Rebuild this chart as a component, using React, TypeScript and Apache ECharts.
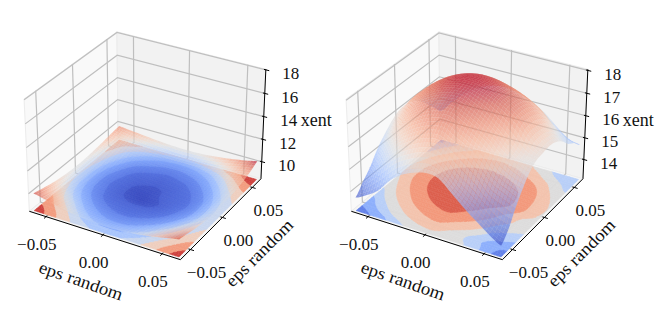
import React, { useEffect, useRef } from "react";
import * as echarts from "echarts";

const gridCoords = [-0.0625, -0.0521, -0.0417, -0.0313, -0.0208, -0.0104, 0, 0.0104, 0.0208, 0.0313, 0.0417, 0.0521, 0.0625];
const axisTicks = [-0.05, 0, 0.05];
const axisTickLabels = ["\u22120.05", "0.00", "0.05"];
const axisLabel = "eps random";
const zLabel = "xent";

const leftZTicks = [10, 12, 14, 16, 18];
const rightZTicks = [14, 15, 16, 17, 18];
const leftZLim = [8.45, 18.05];
const rightZLim = [13.1, 18.05];

const leftZ = [
  [9.98, 9.76, 9.52, 9.31, 9.16, 9.08, 9.05, 9.08, 9.16, 9.31, 9.50, 9.74, 9.95],
  [9.80, 9.58, 9.36, 9.14, 8.99, 8.91, 8.88, 8.91, 8.99, 9.14, 9.36, 9.58, 9.78],
  [9.62, 9.38, 9.16, 8.96, 8.84, 8.77, 8.75, 8.77, 8.84, 8.96, 9.16, 9.40, 9.58],
  [9.48, 9.20, 8.98, 8.82, 8.72, 8.67, 8.65, 8.67, 8.72, 8.82, 8.98, 9.22, 9.42],
  [9.38, 9.08, 8.86, 8.72, 8.64, 8.61, 8.60, 8.61, 8.64, 8.72, 8.86, 9.08, 9.30],
  [9.32, 9.02, 8.80, 8.68, 8.60, 8.55, 8.51, 8.55, 8.60, 8.67, 8.78, 9.00, 9.24],
  [9.30, 9.00, 8.78, 8.66, 8.60, 8.53, 8.53, 8.57, 8.61, 8.65, 8.76, 8.98, 9.22],
  [9.32, 9.02, 8.80, 8.68, 8.61, 8.57, 8.56, 8.58, 8.62, 8.67, 8.78, 9.00, 9.24],
  [9.38, 9.08, 8.86, 8.72, 8.64, 8.62, 8.60, 8.62, 8.65, 8.72, 8.86, 9.08, 9.30],
  [9.46, 9.18, 8.96, 8.80, 8.72, 8.68, 8.66, 8.68, 8.72, 8.82, 8.98, 9.22, 9.42],
  [9.56, 9.30, 9.08, 8.94, 8.85, 8.79, 8.77, 8.79, 8.85, 8.96, 9.16, 9.40, 9.58],
  [9.66, 9.44, 9.28, 9.14, 9.02, 8.96, 8.94, 8.96, 9.04, 9.18, 9.38, 9.62, 9.80],
  [9.75, 9.66, 9.56, 9.46, 9.38, 9.32, 9.30, 9.32, 9.40, 9.52, 9.68, 9.86, 10.09],
];

const rightZ = [
  [13.70, 13.98, 14.35, 14.95, 15.37, 15.62, 15.77, 15.70, 15.25, 14.76, 14.34, 13.93, 13.60],
  [14.13, 14.60, 15.18, 15.67, 16.00, 16.24, 16.34, 16.02, 15.45, 15.05, 14.60, 14.15, 14.00],
  [14.52, 15.18, 15.75, 16.20, 16.54, 16.77, 16.84, 16.54, 16.23, 15.77, 15.16, 14.90, 14.65],
  [15.05, 15.70, 16.23, 16.68, 17.00, 17.21, 17.27, 16.99, 16.69, 16.30, 15.74, 15.40, 15.20],
  [15.45, 16.08, 16.62, 17.05, 17.37, 17.55, 17.59, 17.35, 17.06, 16.67, 16.18, 15.85, 15.65],
  [15.78, 16.40, 16.93, 17.34, 17.63, 17.79, 17.82, 17.62, 17.35, 16.97, 16.49, 16.00, 15.90],
  [16.01, 16.61, 17.11, 17.51, 17.78, 17.93, 17.95, 17.85, 17.67, 17.40, 17.02, 16.41, 15.96],
  [16.05, 16.65, 17.15, 17.55, 17.82, 17.97, 17.99, 17.89, 17.71, 17.44, 17.06, 16.45, 16.00],
  [15.95, 16.55, 17.05, 17.45, 17.72, 17.87, 17.89, 17.79, 17.61, 17.34, 16.96, 16.35, 15.90],
  [15.70, 16.30, 16.80, 17.20, 17.47, 17.62, 17.64, 17.54, 17.36, 17.09, 16.71, 16.10, 15.65],
  [15.31, 15.91, 16.41, 16.81, 17.08, 17.23, 17.25, 17.15, 16.97, 16.70, 16.32, 15.71, 15.28],
  [14.90, 15.50, 16.00, 16.40, 16.67, 16.82, 16.84, 16.74, 16.51, 16.17, 15.71, 15.30, 15.05],
  [14.50, 15.05, 15.55, 15.95, 16.22, 16.37, 16.39, 16.29, 16.06, 15.72, 15.26, 14.85, 14.72],
];
// the two front rows of the floor contours of the right panel
const rightFloorRow0 = [13.70, 13.98, 14.35, 14.95, 15.37, 15.62, 15.77, 15.72, 15.58, 15.37, 14.85, 14.20, 13.60];
const rightFloorRow1 = [14.13, 14.60, 15.18, 15.67, 16.00, 16.24, 16.34, 16.02, 15.68, 15.17, 14.71, 14.30, 14.10];

const leftLevels = [8.5, 8.57, 8.68, 8.8, 8.95, 9.1, 9.3, 9.55, 9.8, 10.09];
const rightLevels = [13.4, 14.06, 14.71, 15.37, 16.03, 16.69, 17.34, 18.0];
const leftBandTones = [0.02, 0.08, 0.15, 0.236, 0.33, 0.43, 0.58, 0.74, 0.92];
const rightBandTones = [0.125, 0.25, 0.375, 0.5, 0.625, 0.75, 0.875];

const coolwarm = ["#3b4cc0", "#5977e3", "#7b9ff9", "#9ebeff", "#c0d4f5", "#dddcdc", "#f2cbb7", "#f7ac8e", "#ee8468", "#d65244", "#b40426"];

// --- drawing ---
const FONT = '"Liberation Serif", serif';
const LIM = [-0.0651, 0.0651];
const SUB = 4;
const ALPHA = 0.65;

function hexRgb(h: string) {
  return [parseInt(h.slice(1, 3), 16), parseInt(h.slice(3, 5), 16), parseInt(h.slice(5, 7), 16)];
}
function tone(t: number) {
  const v = Math.max(0, Math.min(1, t)) * (coolwarm.length - 1);
  const i = Math.min(Math.floor(v), coolwarm.length - 2);
  const f = v - i;
  const a = hexRgb(coolwarm[i]);
  const b = hexRgb(coolwarm[i + 1]);
  return `rgb(${Math.round(a[0] + (b[0] - a[0]) * f)},${Math.round(a[1] + (b[1] - a[1]) * f)},${Math.round(a[2] + (b[2] - a[2]) * f)})`;
}

const el = (30 * Math.PI) / 180;
const az = (-60 * Math.PI) / 180;
const N = [Math.cos(az) * Math.cos(el), Math.sin(az) * Math.cos(el), Math.sin(el)];
const nu = Math.hypot(N[1], N[0]);
const U = [-N[1] / nu, N[0] / nu, 0];
const VV = [N[1] * U[2] - N[2] * U[1], N[2] * U[0] - N[0] * U[2], N[0] * U[1] - N[1] * U[0]];
const DIST = 10;
const ASPECT = [1.1428, 1.1428, 0.857];
const SX = 1515;
const SY = 1493;
const OX = 147.2;
const OY = 140.5;

type Pt = [number, number];

function makeProjector(zLim: number[], dx: number) {
  return (x: number, y: number, z: number): { p: Pt; depth: number } => {
    const c = [
      ((x - LIM[0]) / (LIM[1] - LIM[0]) - 0.5) * ASPECT[0],
      ((y - LIM[0]) / (LIM[1] - LIM[0]) - 0.5) * ASPECT[1],
      ((z - zLim[0]) / (zLim[1] - zLim[0]) - 0.5) * ASPECT[2],
    ];
    const a = U[0] * c[0] + U[1] * c[1] + U[2] * c[2];
    const b = VV[0] * c[0] + VV[1] * c[1] + VV[2] * c[2];
    const n = N[0] * c[0] + N[1] * c[1] + N[2] * c[2];
    const d = DIST - n;
    return { p: [OX + dx + (SX * a) / d, OY - (SY * b) / d], depth: d };
  };
}

function cr(a: number, b: number, c: number, d: number, t: number) {
  return 0.5 * (2 * b + (c - a) * t + (2 * a - 5 * b + 4 * c - d) * t * t + (3 * b - a - 3 * c + d) * t * t * t);
}
function sample(g: number[][], fi: number, fj: number) {
  const n = g.length - 1;
  const i = Math.min(Math.floor(fi), n - 1);
  const j = Math.min(Math.floor(fj), n - 1);
  const ti = fi - i;
  const tj = fj - j;
  const at = (jj: number, ii: number) => g[Math.max(0, Math.min(n, jj))][Math.max(0, Math.min(n, ii))];
  const row = (jj: number) => cr(at(jj, i - 1), at(jj, i), at(jj, i + 1), at(jj, i + 2), ti);
  return cr(row(j - 1), row(j), row(j + 1), row(j + 2), tj);
}
function coord(f: number) {
  const i = Math.min(Math.floor(f), gridCoords.length - 2);
  return gridCoords[i] + (gridCoords[i + 1] - gridCoords[i]) * (f - i);
}

type V3 = [number, number, number];
function clip(poly: V3[], level: number, keepAbove: boolean): V3[] {
  const out: V3[] = [];
  for (let k = 0; k < poly.length; k++) {
    const a = poly[k];
    const b = poly[(k + 1) % poly.length];
    const ia = keepAbove ? a[2] >= level : a[2] <= level;
    const ib = keepAbove ? b[2] >= level : b[2] <= level;
    if (ia) out.push(a);
    if (ia !== ib) {
      const t = (level - a[2]) / (b[2] - a[2]);
      out.push([a[0] + (b[0] - a[0]) * t, a[1] + (b[1] - a[1]) * t, level]);
    }
  }
  return out;
}

function buildPanel(grid: number[][], floorGrid: number[][], zLim: number[], zTicks: number[], levels: number[], bandTones: number[], dx: number) {
  const proj = makeProjector(zLim, dx);
  const [lo, hi] = LIM;
  const [zl, zh] = zLim;
  const P = (x: number, y: number, z: number) => proj(x, y, z).p;
  const base: any[] = [];
  const floor: any[] = [];
  const surface: any[] = [];
  const axes: any[] = [];
  const texts: any[] = [];

  const pane = (pts: Pt[], fill: string) =>
    base.push({ type: "polygon", shape: { points: pts }, style: { fill, stroke: "#ececec", lineWidth: 1 }, silent: true });
  pane([P(lo, lo, zl), P(lo, hi, zl), P(lo, hi, zh), P(lo, lo, zh)], "#f9f9f9");
  pane([P(lo, hi, zl), P(hi, hi, zl), P(hi, hi, zh), P(lo, hi, zh)], "#f2f2f2");
  pane([P(lo, lo, zl), P(hi, lo, zl), P(hi, hi, zl), P(lo, hi, zl)], "#f5f5f5");

  const gridLine = (pts: Pt[]) =>
    base.push({ type: "polyline", shape: { points: pts }, style: { stroke: "#bfbfbf", lineWidth: 1.2, fill: "none" }, silent: true });
  axisTicks.forEach((t) => {
    gridLine([P(t, lo, zl), P(t, hi, zl), P(t, hi, zh)]);
    gridLine([P(hi, t, zl), P(lo, t, zl), P(lo, t, zh)]);
  });
  zTicks.forEach((t) => gridLine([P(lo, lo, t), P(lo, hi, t), P(hi, hi, t)]));

  const black = (pts: Pt[], w = 1) =>
    axes.push({ type: "polyline", shape: { points: pts }, style: { stroke: "#000", lineWidth: w, fill: "none" }, silent: true });
  black([P(lo, lo, zl), P(hi, lo, zl), P(hi, hi, zl), P(hi, hi, zh)]);
  const span = hi - lo;
  axisTicks.forEach((t) => {
    black([P(t, lo - 0.022 * span, zl), P(t, lo + 0.012 * span, zl)]);
    black([P(hi + 0.022 * span, t, zl), P(hi - 0.012 * span, t, zl)]);
  });
  zTicks.forEach((t) => black([P(hi + 0.022 * span, hi, t), P(hi - 0.012 * span, hi, t)]));

  // filled contour bands on the floor, then the surface
  const n = grid.length - 1;
  const M = n * SUB;
  const vmin = Math.min(...grid.map((r) => Math.min(...r)));
  const vmax = Math.max(...grid.map((r) => Math.max(...r)));
  const quads: { pts: Pt[]; fill: string; depth: number }[] = [];
  for (let b = 0; b < M; b++) {
    for (let a = 0; a < M; a++) {
      const corners: [number, number][] = [[a, b], [a + 1, b], [a + 1, b + 1], [a, b + 1]];
      const fPoly: V3[] = corners.map(([ca, cb]) => [coord(ca / SUB), coord(cb / SUB), sample(floorGrid, ca / SUB, cb / SUB)]);
      for (let k = 0; k < bandTones.length; k++) {
        let cut = k === 0 ? fPoly : clip(fPoly, levels[k], true);
        if (cut.length && k < bandTones.length - 1) cut = clip(cut, levels[k + 1], false);
        if (cut.length >= 3) {
          const c = tone(bandTones[k]);
          floor.push({
            type: "polygon",
            shape: { points: cut.map((q) => P(q[0], q[1], zl)) },
            style: { fill: c, stroke: c, lineWidth: 0.5 },
            silent: true,
          });
        }
      }
      const poly: V3[] = corners.map(([ca, cb]) => [coord(ca / SUB), coord(cb / SUB), sample(grid, ca / SUB, cb / SUB)]);
      const pr = poly.map((q) => proj(q[0], q[1], q[2]));
      const mean = (poly[0][2] + poly[1][2] + poly[2][2] + poly[3][2]) / 4;
      quads.push({
        pts: pr.map((q) => q.p),
        fill: tone((mean - vmin) / (vmax - vmin)),
        depth: (pr[0].depth + pr[1].depth + pr[2].depth + pr[3].depth) / 4,
      });
    }
  }
  quads.sort((q, w) => w.depth - q.depth);
  quads.forEach((q) =>
    surface.push({ type: "polygon", shape: { points: q.pts }, style: { fill: q.fill, opacity: ALPHA }, silent: true }),
  );

  const text = (s: string, p: Pt, off: Pt, size: number, rot = 0, stretch = 1) =>
    texts.push({
      type: "text",
      x: p[0] + off[0],
      y: p[1] + off[1],
      rotation: rot,
      scaleX: stretch,
      silent: true,
      style: { x: 0, y: 0, text: s, fill: "#111", font: `${size}px ${FONT}`, align: "center", verticalAlign: "middle" },
    });
  axisTicks.forEach((t, i) => {
    text(axisTickLabels[i], P(t, lo, zl), [-9.3, 27.7], 17);
    text(axisTickLabels[i], P(hi, t, zl), [16, 23], 17);
  });
  zTicks.forEach((t) => text(String(t), P(hi, hi, t), [25, 4], 17));
  const d = Math.PI / 180;
  text(axisLabel, P(0, lo, zl), [-22, 46], 17.5, -19 * d, 1.08);
  text(axisLabel, P(hi, 0, zl), [37, 35.5], 17.5, 45 * d, 1.08);
  text(zLabel, P(hi, hi, (zl + zh) / 2), [53, -5], 18);

  return [base, axes, floor, surface, texts];
}

function layerSeries(items: any[]) {
  return {
    type: "custom",
    coordinateSystem: "none",
    silent: true,
    animation: false,
    progressive: 0,
    clip: false,
    data: items.map((_, i) => i),
    renderItem: (p: any) => items[p.dataIndex],
  };
}

export default function App() {
  const ref = useRef<HTMLDivElement>(null);
  useEffect(() => {
    document.body.style.margin = "0";
    const chart = echarts.init(ref.current!, undefined, { renderer: "svg" });
    const rightFloor = [rightFloorRow0, rightFloorRow1, ...rightZ.slice(2)];
    const layers = [
      ...buildPanel(leftZ, leftZ, leftZLim, leftZTicks, leftLevels, leftBandTones, 0),
      ...buildPanel(rightZ, rightFloor, rightZLim, rightZTicks, rightLevels, rightBandTones, 322),
    ];
    chart.setOption({
      animation: false,
      backgroundColor: "#fff",
      tooltip: { show: false },
      series: layers.map(layerSeries) as any,
    });
    return () => chart.dispose();
  }, []);
  return <div ref={ref} style={{ width: 664, height: 313 }} />;
}
